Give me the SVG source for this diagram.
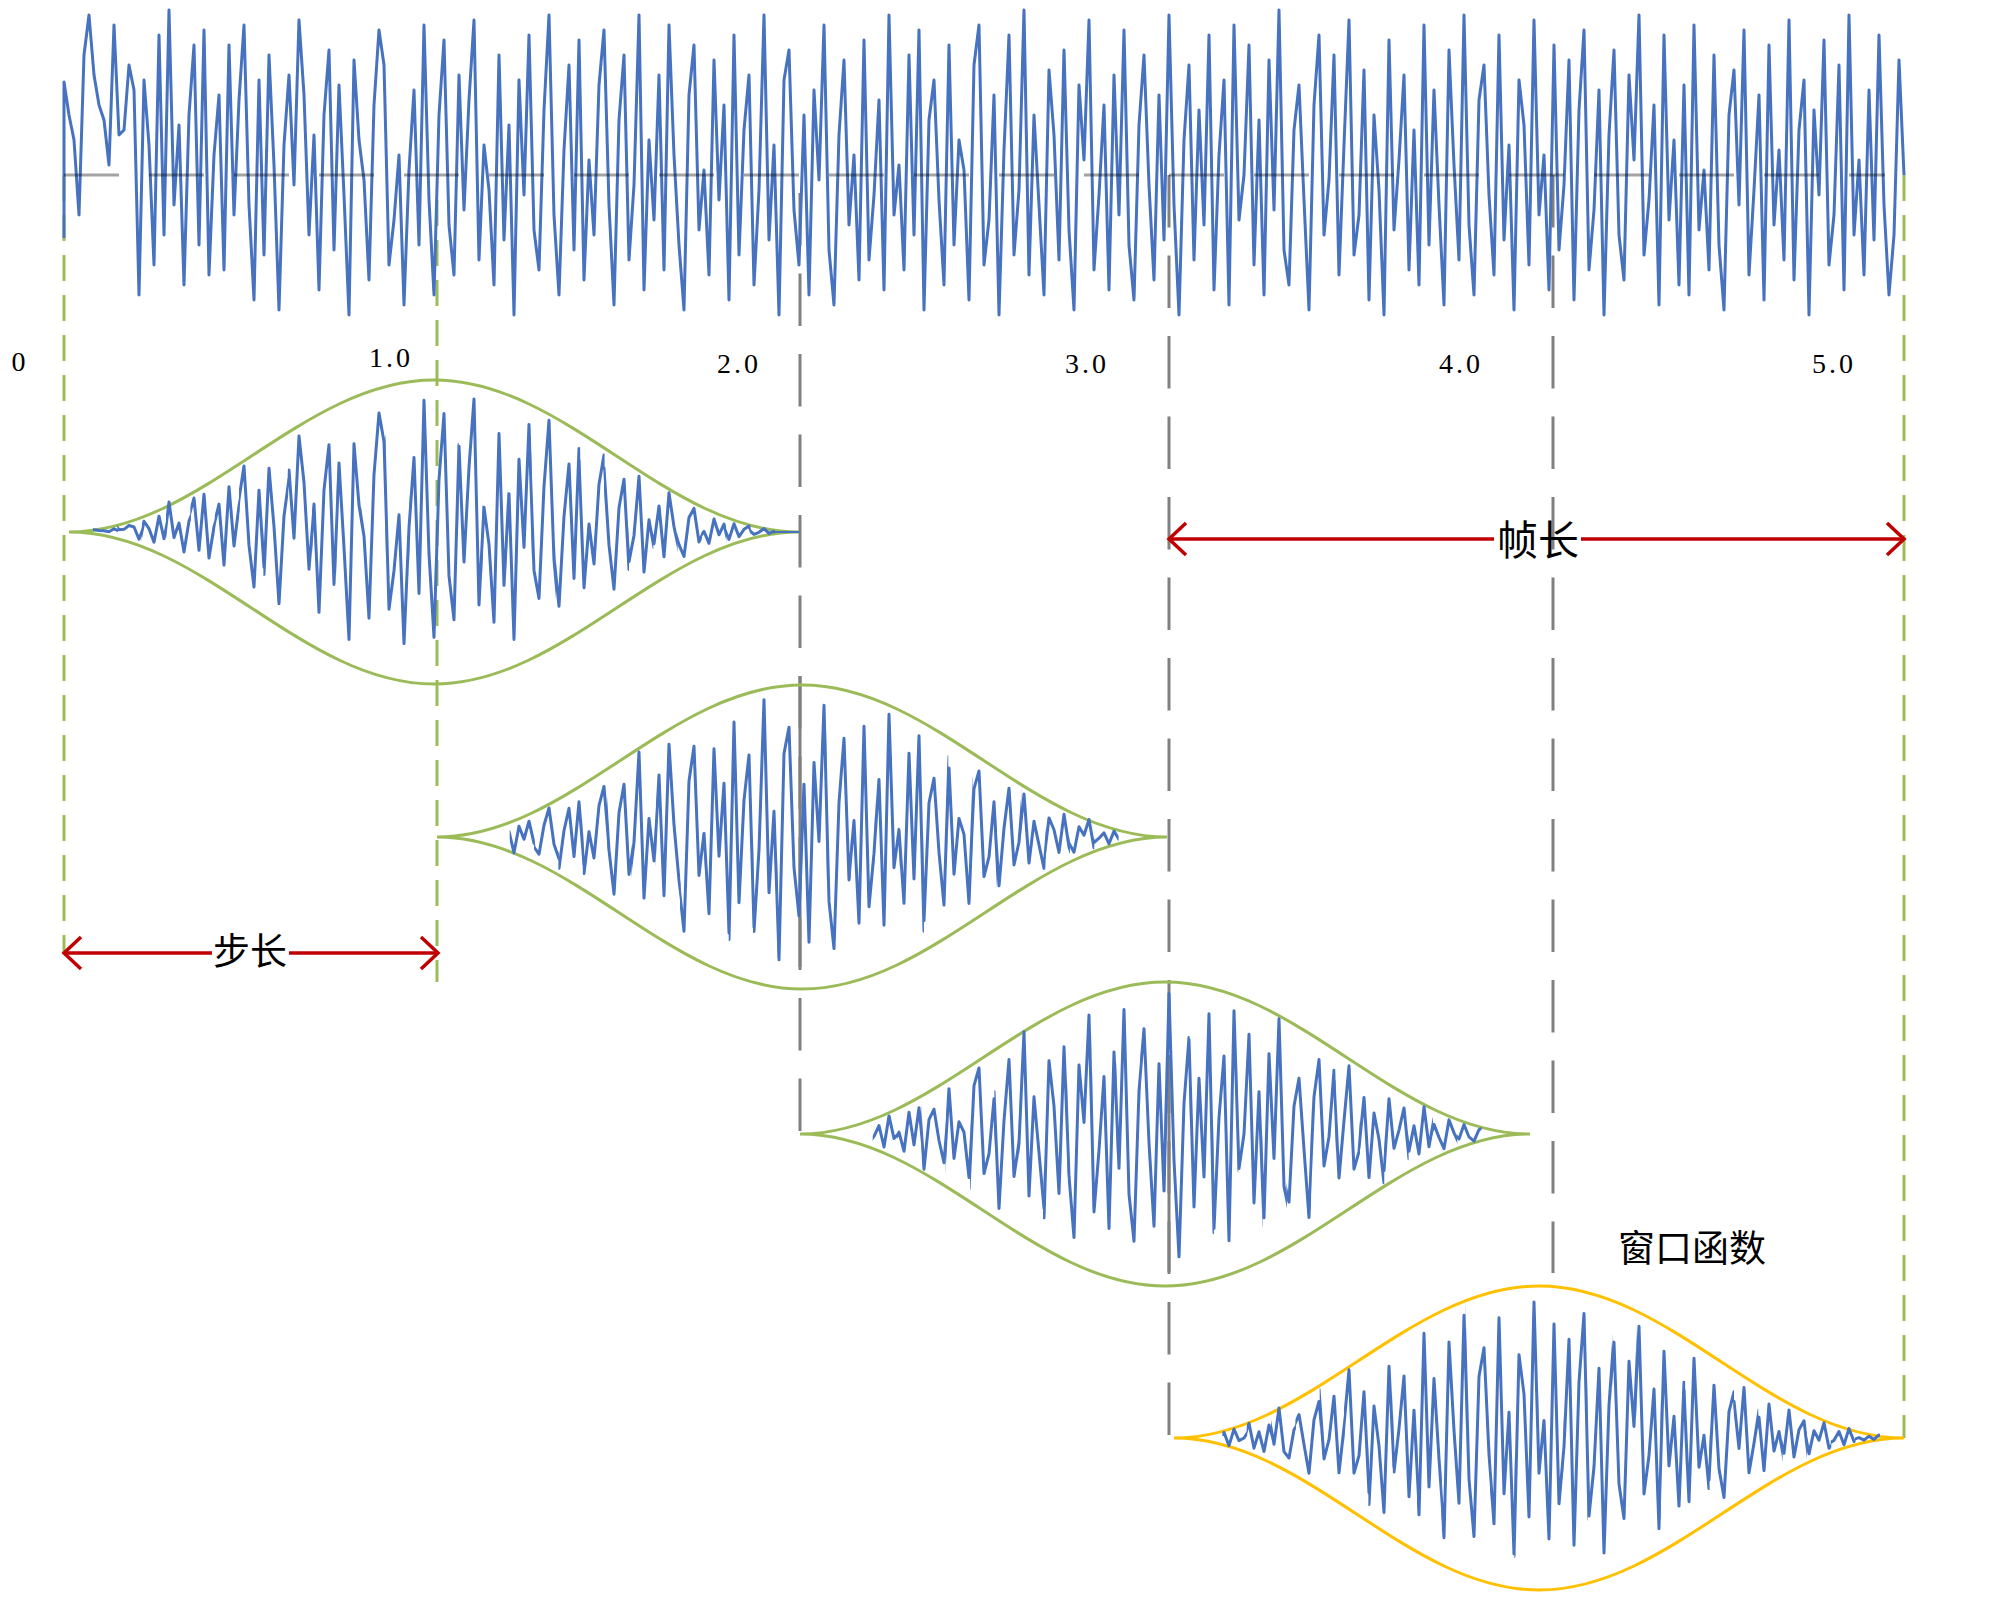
<svg xmlns="http://www.w3.org/2000/svg" xmlns:xlink="http://www.w3.org/1999/xlink" width="2000" height="1606" viewBox="0 0 2000 1606">
<style>
.sig{fill:none;stroke:#4672C0;stroke-width:3;stroke-linejoin:round;vector-effect:non-scaling-stroke}
.env{fill:none;stroke:#9BBB59;stroke-width:3}
.envy{fill:none;stroke:#FFC000;stroke-width:3}
.gd{fill:none;stroke:#808080;stroke-width:3;stroke-dasharray:52.5 28}
.gs{fill:none;stroke:#808080;stroke-width:3}
.grn{fill:none;stroke:#9BBB59;stroke-width:3;stroke-dasharray:26 14}
.base{fill:none;stroke:#000;stroke-opacity:.36;stroke-width:3;stroke-dasharray:55 30}
.arr{fill:none;stroke:#C00000;stroke-width:3.5}
.num{font-family:"Liberation Serif",serif;font-size:28px;letter-spacing:3px;fill:#000}
.cjk{font-family:"Noto Sans CJK SC",sans-serif;fill:#000}
</style>
<defs>
<polyline id="sig" class="sig" points="0,63 0,-93 5,-60 10,-35 15,40 20,-120 25,-160 30,-100 35,-70 40,-55 45,-10 50,-150 55,-40 60,-45 65,-110 70,-85 75,120 80,-95 85,-30 90,90 95,-140 100,60 105,-165 110,30 115,-50 120,110 125,-60 130,-130 135,70 140,-145 145,100 150,-20 155,-80 160,95 165,-130 170,40 175,-75 180,-150 185,30 190,125 195,-95 200,80 205,-120 210,-10 215,135 220,-30 225,-100 230,10 235,-155 240,-80 245,60 250,-40 255,115 260,-60 265,-125 270,75 275,-90 280,20 285,140 290,-115 295,-35 300,5 305,105 310,-70 315,-145 320,-110 325,90 330,45 335,-20 340,130 345,-5 350,-85 355,70 360,-150 365,25 370,120 375,-60 380,-135 385,50 390,100 395,-100 400,35 405,-75 410,-155 415,85 420,-30 425,15 430,110 435,-120 440,65 445,-50 450,140 455,-95 460,20 465,-140 470,55 475,95 480,-65 485,-160 490,40 495,120 500,-25 505,-110 510,75 515,-135 520,105 525,-15 530,60 535,-90 540,-145 545,30 550,130 555,-55 560,-120 565,85 570,10 575,-160 580,115 585,-35 590,45 595,-100 600,95 605,-150 610,-20 615,70 620,135 625,-80 630,-130 635,55 640,-5 645,100 650,-115 655,25 660,-70 665,125 670,-140 675,80 680,-45 685,-100 690,110 695,15 700,-160 705,65 710,-30 715,140 720,-95 725,-125 730,35 735,90 740,-60 745,120 750,-85 755,5 760,-150 765,75 770,130 775,-40 780,-115 785,50 790,-20 795,105 800,-135 805,85 810,20 815,-75 820,115 825,-160 830,40 835,-10 840,95 845,-120 850,60 855,-145 860,135 865,-55 870,-95 875,25 880,110 885,-130 890,70 895,-35 900,-5 905,125 910,-110 915,-150 920,90 925,45 930,-80 935,140 940,-25 945,-140 950,80 955,15 960,-165 965,100 970,-60 975,30 980,120 985,-105 990,-40 995,85 1000,-125 1005,55 1010,135 1015,-90 1020,-15 1025,-155 1030,95 1035,20 1040,-70 1045,115 1050,-100 1055,40 1060,-145 1065,70 1070,125 1075,-50 1080,-120 1085,10 1090,105 1095,-80 1100,65 1105,-160 1110,30 1115,140 1120,-35 1125,-110 1130,85 1135,-65 1140,50 1145,-140 1150,115 1155,-20 1160,-95 1165,130 1170,-150 1175,45 1180,0 1185,-130 1190,90 1195,-55 1200,120 1205,-115 1210,35 1215,-165 1220,75 1225,110 1230,-45 1235,-90 1240,25 1245,135 1250,-70 1255,-140 1260,60 1265,5 1270,-120 1275,100 1280,-30 1285,-155 1290,80 1295,40 1300,-105 1305,125 1310,-60 1315,15 1320,140 1325,-135 1330,55 1335,-15 1340,-100 1345,95 1350,-45 1355,110 1360,-150 1365,70 1370,-85 1375,30 1380,130 1385,-125 1390,-10 1395,85 1400,-160 1405,50 1410,120 1415,-75 1420,-110 1425,20 1430,100 1435,-140 1440,65 1445,-30 1450,135 1455,-95 1460,-50 1465,90 1470,-155 1475,40 1480,-20 1485,115 1490,-130 1495,75 1500,10 1505,-115 1510,125 1515,-65 1520,-145 1525,95 1530,35 1535,-85 1540,140 1545,-40 1550,-125 1555,60 1560,105 1565,-100 1570,-15 1575,-160 1580,80 1585,25 1590,-70 1595,130 1600,-140 1605,45 1610,-35 1615,110 1620,-90 1625,120 1630,-150 1635,55 1640,-5 1645,95 1650,-120 1655,70 1660,135 1665,-60 1670,-105 1675,30 1680,-145 1685,100 1690,15 1695,-80 1700,125 1705,-130 1710,50 1715,-25 1720,85 1725,-155 1730,105 1735,-45 1740,-95 1745,140 1750,-65 1755,20 1760,-135 1765,90 1770,40 1775,-110 1780,115 1785,-160 1790,60 1795,-15 1800,100 1805,-85 1810,65 1815,-140 1820,30 1825,120 1830,60 1835,-115 1840,0"/>
<path id="env" d="M0,0 C133,0 232,-152 365,-152 C498,-152 597,0 730,0 C597,0 498,152 365,152 C232,152 133,0 0,0Z"/>
<clipPath id="c0"><rect x="-0.3" y="-400" width="24.9" height="800"/></clipPath>
<clipPath id="c1"><rect x="24.03" y="-400" width="24.9" height="800"/></clipPath>
<clipPath id="c2"><rect x="48.37" y="-400" width="24.9" height="800"/></clipPath>
<clipPath id="c3"><rect x="72.7" y="-400" width="24.9" height="800"/></clipPath>
<clipPath id="c4"><rect x="97.03" y="-400" width="24.9" height="800"/></clipPath>
<clipPath id="c5"><rect x="121.37" y="-400" width="24.9" height="800"/></clipPath>
<clipPath id="c6"><rect x="145.7" y="-400" width="24.9" height="800"/></clipPath>
<clipPath id="c7"><rect x="170.03" y="-400" width="24.9" height="800"/></clipPath>
<clipPath id="c8"><rect x="194.37" y="-400" width="24.9" height="800"/></clipPath>
<clipPath id="c9"><rect x="218.7" y="-400" width="24.9" height="800"/></clipPath>
<clipPath id="c10"><rect x="243.03" y="-400" width="24.9" height="800"/></clipPath>
<clipPath id="c11"><rect x="267.37" y="-400" width="24.9" height="800"/></clipPath>
<clipPath id="c12"><rect x="291.7" y="-400" width="24.9" height="800"/></clipPath>
<clipPath id="c13"><rect x="316.03" y="-400" width="24.9" height="800"/></clipPath>
<clipPath id="c14"><rect x="340.37" y="-400" width="24.9" height="800"/></clipPath>
<clipPath id="c15"><rect x="364.7" y="-400" width="24.9" height="800"/></clipPath>
<clipPath id="c16"><rect x="389.03" y="-400" width="24.9" height="800"/></clipPath>
<clipPath id="c17"><rect x="413.37" y="-400" width="24.9" height="800"/></clipPath>
<clipPath id="c18"><rect x="437.7" y="-400" width="24.9" height="800"/></clipPath>
<clipPath id="c19"><rect x="462.03" y="-400" width="24.9" height="800"/></clipPath>
<clipPath id="c20"><rect x="486.37" y="-400" width="24.9" height="800"/></clipPath>
<clipPath id="c21"><rect x="510.7" y="-400" width="24.9" height="800"/></clipPath>
<clipPath id="c22"><rect x="535.03" y="-400" width="24.9" height="800"/></clipPath>
<clipPath id="c23"><rect x="559.37" y="-400" width="24.9" height="800"/></clipPath>
<clipPath id="c24"><rect x="583.7" y="-400" width="24.9" height="800"/></clipPath>
<clipPath id="c25"><rect x="608.03" y="-400" width="24.9" height="800"/></clipPath>
<clipPath id="c26"><rect x="632.37" y="-400" width="24.9" height="800"/></clipPath>
<clipPath id="c27"><rect x="656.7" y="-400" width="24.9" height="800"/></clipPath>
<clipPath id="c28"><rect x="681.03" y="-400" width="24.9" height="800"/></clipPath>
<clipPath id="c29"><rect x="705.37" y="-400" width="24.9" height="800"/></clipPath>
</defs>
<rect width="2000" height="1606" fill="#fff"/>

<g id="connectors">
<g id="guides">
<line class="grn" x1="64" y1="175" x2="64" y2="953"/>
<line class="grn" x1="437" y1="200" x2="437" y2="982"/>
<line class="grn" x1="1904" y1="175" x2="1904" y2="1438"/>
<line class="gd" x1="800" y1="193" x2="800" y2="1134"/>
<line class="gs" x1="800" y1="676" x2="800" y2="967"/>
<line class="gd" x1="1169" y1="175" x2="1169" y2="1436"/>
<line class="gs" x1="1169" y1="1055" x2="1169" y2="1272"/>
<line class="gd" x1="1553" y1="175" x2="1553" y2="1273"/>
</g>
</g>

<g id="signal">
<use href="#sig" transform="translate(64,175)"/>
<line class="base" x1="64" y1="175" x2="1885" y2="175"/>
</g>

<g id="axis-labels">
<text class="num" x="20" y="371" text-anchor="middle">0</text>
<text class="num" x="369" y="367">1.0</text>
<text class="num" x="717" y="373">2.0</text>
<text class="num" x="1065" y="373">3.0</text>
<text class="num" x="1439" y="373">4.0</text>
<text class="num" x="1812" y="373">5.0</text>
</g>

<g id="frame1">
<use href="#env" class="env" transform="translate(69,532)"/>
<g transform="translate(69,532)">
<g transform="scale(1,.0215)" clip-path="url(#c1)"><use href="#sig" x="-5"/></g>
<g transform="scale(1,.059)" clip-path="url(#c2)"><use href="#sig" x="-5"/></g>
<g transform="scale(1,.113)" clip-path="url(#c3)"><use href="#sig" x="-5"/></g>
<g transform="scale(1,.1814)" clip-path="url(#c4)"><use href="#sig" x="-5"/></g>
<g transform="scale(1,.261)" clip-path="url(#c5)"><use href="#sig" x="-5"/></g>
<g transform="scale(1,.3485)" clip-path="url(#c6)"><use href="#sig" x="-5"/></g>
<g transform="scale(1,.44)" clip-path="url(#c7)"><use href="#sig" x="-5"/></g>
<g transform="scale(1,.5315)" clip-path="url(#c8)"><use href="#sig" x="-5"/></g>
<g transform="scale(1,.619)" clip-path="url(#c9)"><use href="#sig" x="-5"/></g>
<g transform="scale(1,.6986)" clip-path="url(#c10)"><use href="#sig" x="-5"/></g>
<g transform="scale(1,.767)" clip-path="url(#c11)"><use href="#sig" x="-5"/></g>
<g transform="scale(1,.821)" clip-path="url(#c12)"><use href="#sig" x="-5"/></g>
<g transform="scale(1,.8585)" clip-path="url(#c13)"><use href="#sig" x="-5"/></g>
<g transform="scale(1,.8776)" clip-path="url(#c14)"><use href="#sig" x="-5"/></g>
<g transform="scale(1,.8776)" clip-path="url(#c15)"><use href="#sig" x="-5"/></g>
<g transform="scale(1,.8585)" clip-path="url(#c16)"><use href="#sig" x="-5"/></g>
<g transform="scale(1,.821)" clip-path="url(#c17)"><use href="#sig" x="-5"/></g>
<g transform="scale(1,.767)" clip-path="url(#c18)"><use href="#sig" x="-5"/></g>
<g transform="scale(1,.6986)" clip-path="url(#c19)"><use href="#sig" x="-5"/></g>
<g transform="scale(1,.619)" clip-path="url(#c20)"><use href="#sig" x="-5"/></g>
<g transform="scale(1,.5315)" clip-path="url(#c21)"><use href="#sig" x="-5"/></g>
<g transform="scale(1,.44)" clip-path="url(#c22)"><use href="#sig" x="-5"/></g>
<g transform="scale(1,.3485)" clip-path="url(#c23)"><use href="#sig" x="-5"/></g>
<g transform="scale(1,.261)" clip-path="url(#c24)"><use href="#sig" x="-5"/></g>
<g transform="scale(1,.1814)" clip-path="url(#c25)"><use href="#sig" x="-5"/></g>
<g transform="scale(1,.113)" clip-path="url(#c26)"><use href="#sig" x="-5"/></g>
<g transform="scale(1,.059)" clip-path="url(#c27)"><use href="#sig" x="-5"/></g>
<g transform="scale(1,.0215)" clip-path="url(#c28)"><use href="#sig" x="-5"/></g>
<g transform="scale(1,.0024)" clip-path="url(#c29)"><use href="#sig" x="-5"/></g>
</g>
</g>

<g id="frame2">
<use href="#env" class="env" transform="translate(437,837)"/>
<g transform="translate(437,837)">
<g transform="scale(1,.113)" clip-path="url(#c3)"><use href="#sig" x="-373"/></g>
<g transform="scale(1,.1814)" clip-path="url(#c4)"><use href="#sig" x="-373"/></g>
<g transform="scale(1,.261)" clip-path="url(#c5)"><use href="#sig" x="-373"/></g>
<g transform="scale(1,.3485)" clip-path="url(#c6)"><use href="#sig" x="-373"/></g>
<g transform="scale(1,.44)" clip-path="url(#c7)"><use href="#sig" x="-373"/></g>
<g transform="scale(1,.5315)" clip-path="url(#c8)"><use href="#sig" x="-373"/></g>
<g transform="scale(1,.619)" clip-path="url(#c9)"><use href="#sig" x="-373"/></g>
<g transform="scale(1,.6986)" clip-path="url(#c10)"><use href="#sig" x="-373"/></g>
<g transform="scale(1,.767)" clip-path="url(#c11)"><use href="#sig" x="-373"/></g>
<g transform="scale(1,.821)" clip-path="url(#c12)"><use href="#sig" x="-373"/></g>
<g transform="scale(1,.8585)" clip-path="url(#c13)"><use href="#sig" x="-373"/></g>
<g transform="scale(1,.8776)" clip-path="url(#c14)"><use href="#sig" x="-373"/></g>
<g transform="scale(1,.8776)" clip-path="url(#c15)"><use href="#sig" x="-373"/></g>
<g transform="scale(1,.8585)" clip-path="url(#c16)"><use href="#sig" x="-373"/></g>
<g transform="scale(1,.821)" clip-path="url(#c17)"><use href="#sig" x="-373"/></g>
<g transform="scale(1,.767)" clip-path="url(#c18)"><use href="#sig" x="-373"/></g>
<g transform="scale(1,.6986)" clip-path="url(#c19)"><use href="#sig" x="-373"/></g>
<g transform="scale(1,.619)" clip-path="url(#c20)"><use href="#sig" x="-373"/></g>
<g transform="scale(1,.5315)" clip-path="url(#c21)"><use href="#sig" x="-373"/></g>
<g transform="scale(1,.44)" clip-path="url(#c22)"><use href="#sig" x="-373"/></g>
<g transform="scale(1,.3485)" clip-path="url(#c23)"><use href="#sig" x="-373"/></g>
<g transform="scale(1,.261)" clip-path="url(#c24)"><use href="#sig" x="-373"/></g>
<g transform="scale(1,.1814)" clip-path="url(#c25)"><use href="#sig" x="-373"/></g>
<g transform="scale(1,.113)" clip-path="url(#c26)"><use href="#sig" x="-373"/></g>
<g transform="scale(1,.059)" clip-path="url(#c27)"><use href="#sig" x="-373"/></g>
</g>
</g>

<g id="frame3">
<use href="#env" class="env" transform="translate(800,1134)"/>
<g transform="translate(800,1134)">
<g transform="scale(1,.113)" clip-path="url(#c3)"><use href="#sig" x="-736"/></g>
<g transform="scale(1,.1814)" clip-path="url(#c4)"><use href="#sig" x="-736"/></g>
<g transform="scale(1,.261)" clip-path="url(#c5)"><use href="#sig" x="-736"/></g>
<g transform="scale(1,.3485)" clip-path="url(#c6)"><use href="#sig" x="-736"/></g>
<g transform="scale(1,.44)" clip-path="url(#c7)"><use href="#sig" x="-736"/></g>
<g transform="scale(1,.5315)" clip-path="url(#c8)"><use href="#sig" x="-736"/></g>
<g transform="scale(1,.619)" clip-path="url(#c9)"><use href="#sig" x="-736"/></g>
<g transform="scale(1,.6986)" clip-path="url(#c10)"><use href="#sig" x="-736"/></g>
<g transform="scale(1,.767)" clip-path="url(#c11)"><use href="#sig" x="-736"/></g>
<g transform="scale(1,.821)" clip-path="url(#c12)"><use href="#sig" x="-736"/></g>
<g transform="scale(1,.8585)" clip-path="url(#c13)"><use href="#sig" x="-736"/></g>
<g transform="scale(1,.8776)" clip-path="url(#c14)"><use href="#sig" x="-736"/></g>
<g transform="scale(1,.8776)" clip-path="url(#c15)"><use href="#sig" x="-736"/></g>
<g transform="scale(1,.8585)" clip-path="url(#c16)"><use href="#sig" x="-736"/></g>
<g transform="scale(1,.821)" clip-path="url(#c17)"><use href="#sig" x="-736"/></g>
<g transform="scale(1,.767)" clip-path="url(#c18)"><use href="#sig" x="-736"/></g>
<g transform="scale(1,.6986)" clip-path="url(#c19)"><use href="#sig" x="-736"/></g>
<g transform="scale(1,.619)" clip-path="url(#c20)"><use href="#sig" x="-736"/></g>
<g transform="scale(1,.5315)" clip-path="url(#c21)"><use href="#sig" x="-736"/></g>
<g transform="scale(1,.44)" clip-path="url(#c22)"><use href="#sig" x="-736"/></g>
<g transform="scale(1,.3485)" clip-path="url(#c23)"><use href="#sig" x="-736"/></g>
<g transform="scale(1,.261)" clip-path="url(#c24)"><use href="#sig" x="-736"/></g>
<g transform="scale(1,.1814)" clip-path="url(#c25)"><use href="#sig" x="-736"/></g>
<g transform="scale(1,.113)" clip-path="url(#c26)"><use href="#sig" x="-736"/></g>
<g transform="scale(1,.059)" clip-path="url(#c27)"><use href="#sig" x="-736"/></g>
</g>
</g>

<g id="frame4">
<use href="#env" class="envy" transform="translate(1174,1438)"/>
<g transform="translate(1174,1438)">
<g transform="scale(1,.059)" clip-path="url(#c2)"><use href="#sig" x="-1110"/></g>
<g transform="scale(1,.113)" clip-path="url(#c3)"><use href="#sig" x="-1110"/></g>
<g transform="scale(1,.1814)" clip-path="url(#c4)"><use href="#sig" x="-1110"/></g>
<g transform="scale(1,.261)" clip-path="url(#c5)"><use href="#sig" x="-1110"/></g>
<g transform="scale(1,.3485)" clip-path="url(#c6)"><use href="#sig" x="-1110"/></g>
<g transform="scale(1,.44)" clip-path="url(#c7)"><use href="#sig" x="-1110"/></g>
<g transform="scale(1,.5315)" clip-path="url(#c8)"><use href="#sig" x="-1110"/></g>
<g transform="scale(1,.619)" clip-path="url(#c9)"><use href="#sig" x="-1110"/></g>
<g transform="scale(1,.6986)" clip-path="url(#c10)"><use href="#sig" x="-1110"/></g>
<g transform="scale(1,.767)" clip-path="url(#c11)"><use href="#sig" x="-1110"/></g>
<g transform="scale(1,.821)" clip-path="url(#c12)"><use href="#sig" x="-1110"/></g>
<g transform="scale(1,.8585)" clip-path="url(#c13)"><use href="#sig" x="-1110"/></g>
<g transform="scale(1,.8776)" clip-path="url(#c14)"><use href="#sig" x="-1110"/></g>
<g transform="scale(1,.8776)" clip-path="url(#c15)"><use href="#sig" x="-1110"/></g>
<g transform="scale(1,.8585)" clip-path="url(#c16)"><use href="#sig" x="-1110"/></g>
<g transform="scale(1,.821)" clip-path="url(#c17)"><use href="#sig" x="-1110"/></g>
<g transform="scale(1,.767)" clip-path="url(#c18)"><use href="#sig" x="-1110"/></g>
<g transform="scale(1,.6986)" clip-path="url(#c19)"><use href="#sig" x="-1110"/></g>
<g transform="scale(1,.619)" clip-path="url(#c20)"><use href="#sig" x="-1110"/></g>
<g transform="scale(1,.5315)" clip-path="url(#c21)"><use href="#sig" x="-1110"/></g>
<g transform="scale(1,.44)" clip-path="url(#c22)"><use href="#sig" x="-1110"/></g>
<g transform="scale(1,.3485)" clip-path="url(#c23)"><use href="#sig" x="-1110"/></g>
<g transform="scale(1,.261)" clip-path="url(#c24)"><use href="#sig" x="-1110"/></g>
<g transform="scale(1,.1814)" clip-path="url(#c25)"><use href="#sig" x="-1110"/></g>
<g transform="scale(1,.113)" clip-path="url(#c26)"><use href="#sig" x="-1110"/></g>
<g transform="scale(1,.059)" clip-path="url(#c27)"><use href="#sig" x="-1110"/></g>
<g transform="scale(1,.0215)" clip-path="url(#c28)"><use href="#sig" x="-1110"/></g>
</g>
</g>

<g id="arrows">
<g id="frame-length">
<line class="arr" x1="1169" y1="539" x2="1494" y2="539"/>
<line class="arr" x1="1581" y1="539" x2="1904" y2="539"/>
<polyline class="arr" points="1186,523 1169,539 1186,555"/>
<polyline class="arr" points="1887,523 1904,539 1887,555"/>
</g>
<g id="step-length">
<line class="arr" x1="64" y1="953" x2="212" y2="953"/>
<line class="arr" x1="289" y1="953" x2="438" y2="953"/>
<polyline class="arr" points="81,937 64,953 81,969"/>
<polyline class="arr" points="421,937 438,953 421,969"/>
</g>
</g>

<g id="labels">
<text class="cjk" x="1538" y="555" font-size="41" text-anchor="middle">帧长</text>
<text class="cjk" x="250" y="965" font-size="37" text-anchor="middle">步长</text>
<text class="cjk" x="1692" y="1262" font-size="37" text-anchor="middle">窗口函数</text>
</g>
</svg>
